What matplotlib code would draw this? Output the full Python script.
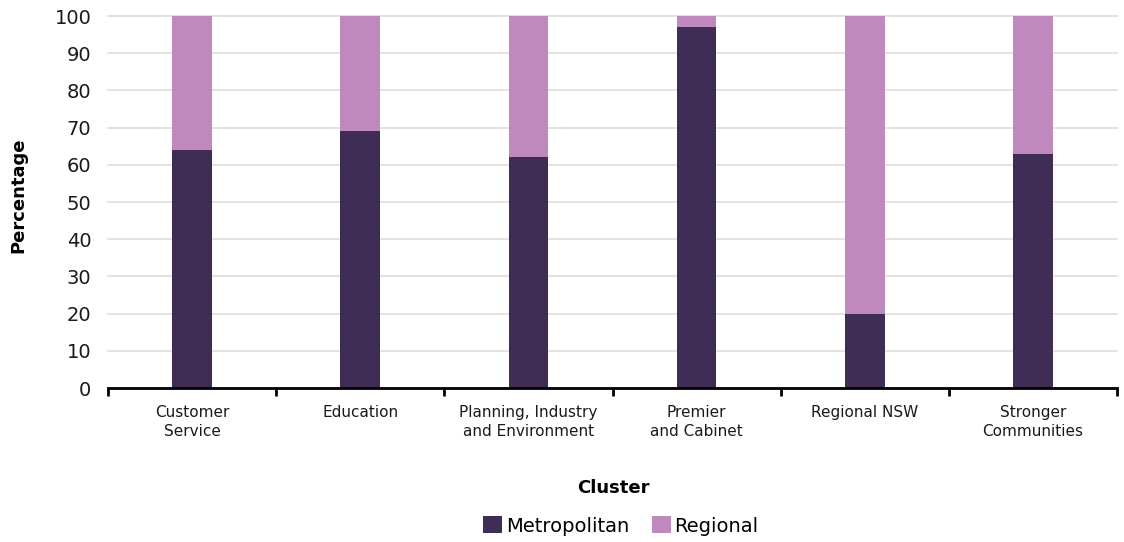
import matplotlib
matplotlib.use("Agg")
import matplotlib.pyplot as plt
import numpy as np

categories = ["Customer\nService", "Education", "Planning, Industry\nand Environment",
              "Premier\nand Cabinet", "Regional NSW", "Stronger\nCommunities"]
metropolitan = [64, 69, 62, 97, 20, 63]
regional = [36, 31, 38, 3, 80, 37]
yticks = [0, 10, 20, 30, 40, 50, 60, 70, 80, 90, 100]

plt.rcParams['font.family'] = ['DejaVu Sans']

fig = plt.figure(figsize=(11.24, 5.42), dpi=100)
ax = fig.add_axes([108/1124, 1-388/542, (1117-108)/1124, (388-16)/542])

x = np.arange(len(categories))
c_metro = "#3f2d56"
c_reg = "#c089be"
w = 0.235
ax.bar(x, metropolitan, width=w, color=c_metro, label="Metropolitan", zorder=3)
ax.bar(x, regional, width=w, bottom=metropolitan, color=c_reg, label="Regional", zorder=3)

ax.set_xlim(-0.5, len(categories) - 0.5)
ax.set_ylim(0, 100)
ax.set_yticks(yticks)
ax.tick_params(axis='y', length=0, labelsize=14, pad=12, colors="#1a1a1a")
ax.yaxis.grid(True, color="#e0ded6", linewidth=1.2, zorder=0)
for gl in ax.get_ygridlines():
    gl.set_clip_on(False)

ax.set_xticks(np.arange(-0.5, len(categories), 1.0))
ax.set_xticklabels([])
ax.tick_params(axis='x', which='major', length=6, width=2, direction='out', color='black')
ax.set_xticks(x, minor=True)
ax.set_xticklabels(categories, minor=True, fontsize=11, color="#1a1a1a", linespacing=1.4)
ax.tick_params(axis='x', which='minor', length=0, pad=12)

for s in ['top', 'right', 'left']:
    ax.spines[s].set_visible(False)
ax.spines['bottom'].set_linewidth(2)
ax.spines['bottom'].set_color('black')
ax.spines['bottom'].set_zorder(4)

fig.text(18/1124, 1-195/542, "Percentage", rotation=90, ha='center', va='center',
         fontsize=13, fontweight='bold')
fig.text(613/1124, 1-488/542, "Cluster", ha='center', va='center',
         fontsize=13, fontweight='bold')

handles, labels = ax.get_legend_handles_labels()
fig.legend(handles, labels, loc='center', bbox_to_anchor=(621/1124, 1-526/542), ncol=2,
           frameon=False, fontsize=14, handlelength=0.95, handleheight=0.95,
           handletextpad=0.2, columnspacing=1.2)

fig.savefig("out.png", dpi=100)
